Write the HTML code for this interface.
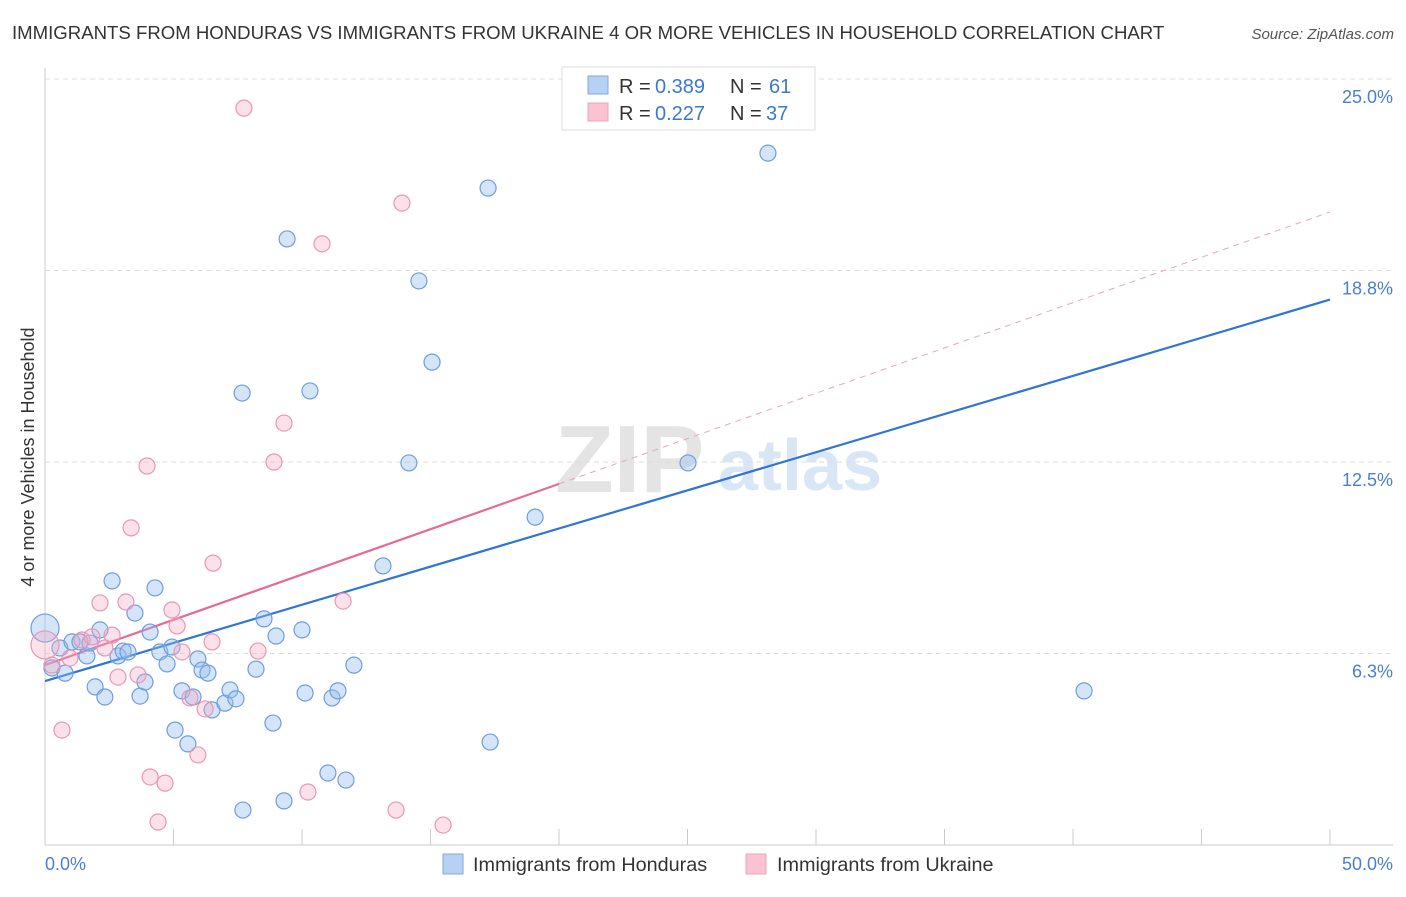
<!DOCTYPE html>
<html><head><meta charset="utf-8"><style>
body{margin:0;background:#fff;font-family:"Liberation Sans",sans-serif;}
svg text{font-family:"Liberation Sans",sans-serif;}
</style></head><body>
<svg id="chart" width="1406" height="892" xmlns="http://www.w3.org/2000/svg">
<text x="12" y="39" font-size="18.6" fill="#333">IMMIGRANTS FROM HONDURAS VS IMMIGRANTS FROM UKRAINE 4 OR MORE VEHICLES IN HOUSEHOLD CORRELATION CHART</text>
<text x="1394" y="39" font-size="15" fill="#555" text-anchor="end" font-style="italic">Source: ZipAtlas.com</text>
<g><text x="555" y="492" font-size="96" fill="#e4e4e4" font-family="Liberation Serif" font-weight="bold">ZIP</text><text x="718" y="490" font-size="72" fill="#d8e6f6" font-weight="bold">atlas</text></g>
<g id="grid"></g><g id="axes"></g><g id="lines"></g><g id="pts"></g>
<text transform="translate(34,457) rotate(-90)" font-size="18" fill="#333" text-anchor="middle">4 or more Vehicles in Household</text>
<text x="45" y="870" font-size="18" fill="#4a7fd0">0.0%</text>
<text x="1393" y="870" font-size="18" fill="#4a7fd0" text-anchor="end">50.0%</text>
<g>
<rect x="562" y="67" width="253" height="63" fill="#fff" stroke="#ddd"/>
<rect x="588" y="76" width="20" height="18" fill="#b7d1f3" stroke="#7eaae5"/>
<rect x="588" y="103" width="20" height="18" fill="#f9c3d3" stroke="#eda0b9"/>
<text x="619" y="93" font-size="20" fill="#333">R = <tspan x="655" fill="#3b78d0">0.389</tspan><tspan x="730">N = </tspan><tspan x="769" fill="#3b78d0">61</tspan></text>
<text x="619" y="120" font-size="20" fill="#333">R = <tspan x="655" fill="#3b78d0">0.227</tspan><tspan x="730">N = </tspan><tspan x="766" fill="#3b78d0">37</tspan></text>
</g>
<g><rect x="443" y="854" width="20" height="20" fill="#b7d1f3" stroke="#7eaae5"/><text x="473" y="871" font-size="19.8" fill="#333">Immigrants from Honduras</text></g>
<g><rect x="746" y="854" width="20" height="20" fill="#f9c3d3" stroke="#eda0b9"/><text x="777" y="871" font-size="19.8" fill="#333">Immigrants from Ukraine</text></g>
</svg>
<script>
const yTicks=[6.25,12.5,18.75,25];
const yTickLabels=["6.3%","12.5%","18.8%","25.0%"];
const xTicks=[0,5,10,15,20,25,30,35,40,45,50];
const blueX=[0,0.27,0.58,0.78,1.05,1.36,1.63,1.75,1.95,2.14,2.33,2.61,2.84,3.04,3.23,3.5,3.7,3.89,4.09,4.28,4.47,4.75,4.94,5.06,5.33,5.56,5.76,5.95,6.11,6.34,6.5,7,7.2,7.43,7.67,7.7,8.21,8.52,8.87,8.99,9.3,9.42,10,10.12,10.31,11.01,11.17,11.4,11.71,12.02,13.15,14.16,14.55,15.06,17.24,17.32,19.07,25.02,28.13,40.43];
const blueY=[7.08,5.78,6.43,5.61,6.63,6.63,6.17,6.59,5.16,7.02,4.83,8.62,6.17,6.33,6.3,7.57,4.86,5.32,6.95,8.39,6.3,5.91,6.46,3.75,5.03,3.3,4.83,6.07,5.71,5.61,4.41,4.63,5.06,4.77,14.75,1.14,5.74,7.38,3.98,6.82,1.44,19.78,7.02,4.96,14.82,2.35,4.8,5.03,2.12,5.87,9.11,12.47,18.41,15.76,21.44,3.36,10.7,12.47,22.58,5.03];
const pinkX=[0,0.27,0.66,0.97,1.44,1.83,2.14,2.33,2.61,2.84,3.15,3.35,3.62,3.97,4.09,4.4,4.67,4.94,5.14,5.33,5.64,5.95,6.23,6.5,6.54,7.74,8.29,8.91,9.3,10.23,10.78,11.6,13.66,13.89,15.49];
const pinkY=[6.53,5.87,3.75,6.1,6.69,6.79,7.9,6.43,6.85,5.48,7.93,10.35,5.55,12.37,2.22,0.75,2.02,7.67,7.15,6.3,4.8,2.94,4.44,6.63,9.2,24.05,6.33,12.5,13.77,1.73,19.62,7.96,1.14,20.95,0.65];
const blueTrend=[5.35,17.8];
const pinkTrend=[5.87,20.66];
const NS="http://www.w3.org/2000/svg";
const X=v=>45+v*25.7, Y=v=>845-v*30.64;
function mk(tag,at,parent){const e=document.createElementNS(NS,tag);for(const k in at)e.setAttribute(k,at[k]);document.getElementById(parent).appendChild(e);return e;}
yTicks.forEach((t,i)=>{
 const l=mk('line',{x1:45,x2:1393,y1:Y(t),y2:Y(t),stroke:'#ddd','stroke-dasharray':'5,4'},'grid');
 
 
 const tx=mk('text',{x:1393,y:Y(t)+24,'font-size':18,fill:'#4a7fd0','text-anchor':'end'},'grid');
 tx.textContent=yTickLabels[i];
 
 
});
const ax=mk('line',{x1:45,x2:1393,y1:845,y2:845,stroke:'#ccc'},'axes');


const ay=mk('line',{x1:45,x2:45,y1:68,y2:845,stroke:'#ccc'},'axes');


xTicks.forEach(t=>{
 const l=mk('line',{x1:X(t),x2:X(t),y1:829,y2:845,stroke:'#ccc'},'axes');
 
 
});
const pd=mk('line',{x1:X(20),x2:X(50),y1:Y(pinkTrend[0]+(pinkTrend[1]-pinkTrend[0])*0.4),y2:Y(pinkTrend[1]),stroke:'#e9a5bd','stroke-dasharray':'6,5','stroke-width':1},'lines');


function pts(xs,ys,fill,stroke,name){xs.forEach((x,i)=>{
 const c=mk('circle',{cx:X(x),cy:Y(ys[i]),r:(i==0?14:8),fill:fill,stroke:stroke,'stroke-width':1.2},'pts');
 
 
});}
pts(blueX,blueY,'rgba(150,190,240,0.4)','#6d9edc','honduras-point');
pts(pinkX,pinkY,'rgba(245,170,195,0.35)','#e897b3','ukraine-point');
const bl=mk('line',{x1:X(0),x2:X(50),y1:Y(blueTrend[0]),y2:Y(blueTrend[1]),stroke:'#2f74d6','stroke-width':2.2},'lines');


const pl=mk('line',{x1:X(0),x2:X(20),y1:Y(pinkTrend[0]),y2:Y(pinkTrend[0]+(pinkTrend[1]-pinkTrend[0])*0.4),stroke:'#e56a95','stroke-width':2.2},'lines');


</script>
</body></html>
